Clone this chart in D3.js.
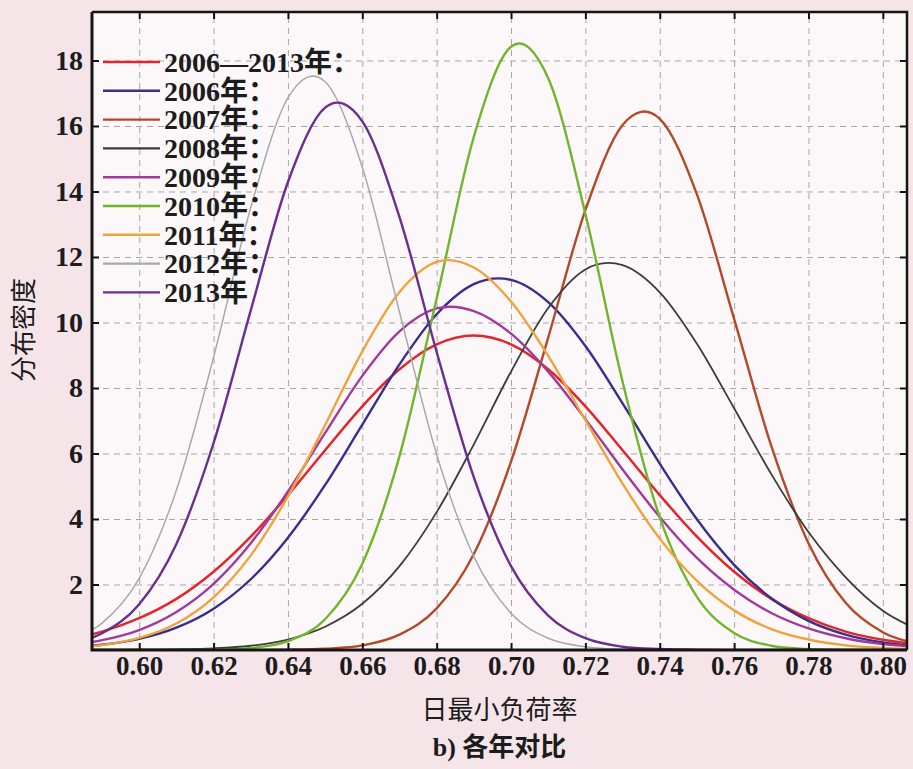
<!DOCTYPE html>
<html>
<head>
<meta charset="utf-8">
<script src="https://cdn.jsdelivr.net/npm/d3@7"></script>
<style>
  html, body { margin: 0; padding: 0; background: #f5e5e9; }
  svg { display: block; }
  .tick text { font-family: 'Liberation Serif', 'Times New Roman', serif; font-weight: bold; fill: #1c1c1c; }
</style>
</head>
<body>
<svg id="chart" width="913" height="769"></svg>
<script>
const xValues = [0.58, 0.59, 0.60, 0.61, 0.62, 0.63, 0.64, 0.65, 0.66, 0.67, 0.68, 0.69,
  0.70, 0.71, 0.72, 0.73, 0.74, 0.75, 0.76, 0.77, 0.78, 0.79, 0.80, 0.81];

const seriesNames = ['2006—2013年：', '2006年：', '2007年：', '2008年：', '2009年：',
  '2010年：', '2011年：', '2012年：', '2013年'];

const allYears = [0.31, 0.56, 0.97, 1.56, 2.39, 3.46, 4.73, 6.10, 7.44, 8.57, 9.33, 9.60,
  9.33, 8.57, 7.44, 6.10, 4.73, 3.46, 2.39, 1.56, 0.97, 0.56, 0.31, 0.16];
const y2006 = [0.07, 0.16, 0.34, 0.68, 1.26, 2.16, 3.43, 5.04, 6.88, 8.72, 10.25, 11.17,
  11.30, 10.62, 9.28, 7.53, 5.69, 3.99, 2.60, 1.58, 0.89, 0.47, 0.23, 0.10];
const y2007 = [0, 0, 0, 0, 0, 0, 0.01, 0.04, 0.14, 0.47, 1.27, 2.93,
  5.75, 9.54, 13.43, 16.03, 16.22, 13.91, 10.11, 6.23, 3.26, 1.44, 0.54, 0.17];
const y2008 = [0, 0, 0.01, 0.02, 0.05, 0.13, 0.32, 0.71, 1.41, 2.56, 4.21, 6.28,
  8.50, 10.44, 11.62, 11.75, 10.92, 9.35, 7.38, 5.37, 3.60, 2.22, 1.20, 0.60];
const y2009 = [0.13, 0.30, 0.61, 1.16, 2.02, 3.26, 4.84, 6.63, 8.37, 9.73, 10.43, 10.35,
  9.66, 8.50, 7.05, 5.51, 4.06, 2.81, 1.84, 1.13, 0.66, 0.36, 0.18, 0.09];
const y2010 = [0, 0, 0, 0, 0.01, 0.06, 0.27, 0.94, 2.63, 5.92, 10.73, 15.67,
  18.42, 17.46, 13.32, 8.19, 4.05, 1.62, 0.52, 0.13, 0.03, 0, 0, 0];
const y2011 = [0.06, 0.15, 0.37, 0.81, 1.61, 2.89, 4.69, 6.87, 9.12, 10.93, 11.85, 11.68,
  10.64, 8.98, 7.02, 5.08, 3.40, 2.11, 1.21, 0.64, 0.32, 0.14, 0.06, 0.02];
const y2012 = [0.25, 0.82, 2.19, 4.88, 8.94, 13.51, 16.86, 17.35, 14.74, 10.32, 5.97, 2.85,
  1.12, 0.36, 0.10, 0.02, 0, 0, 0, 0, 0, 0, 0, 0];
const y2013 = [0.15, 0.51, 1.40, 3.24, 6.32, 10.37, 14.29, 16.56, 16.14, 13.22, 9.10, 5.27,
  2.56, 1.05, 0.36, 0.10, 0.03, 0.01, 0, 0, 0, 0, 0, 0];

const xTicks = [0.60, 0.62, 0.64, 0.66, 0.68, 0.70, 0.72, 0.74, 0.76, 0.78, 0.80];
const yTicks = [2, 4, 6, 8, 10, 12, 14, 16, 18];

const seriesValues = [allYears, y2006, y2007, y2008, y2009, y2010, y2011, y2012, y2013];
const colors = ['#e3262c', '#3a2d8c', '#b24a2a', '#3c3c3c', '#a23a9c',
  '#72b52c', '#f0a23e', '#a9a9a9', '#6b2d8e'];
const widths = [2.5, 2.4, 2.4, 1.8, 2.4, 2.4, 2.4, 1.5, 2.4];

const margin = { top: 12, right: 6, bottom: 119, left: 92 };
const width = 913 - margin.left - margin.right;
const height = 769 - margin.top - margin.bottom;

const svg = d3.select('#chart');

const g = svg.append('g')
  .attr('transform', `translate(${margin.left},${margin.top})`);

const x = d3.scaleLinear().domain([0.5873, 0.8065]).range([0, width]);
const y = d3.scaleLinear().domain([0, 19.48]).range([height, 0]);

g.append('rect')
  .attr('width', width)
  .attr('height', height)
  .attr('fill', '#fcf8f9');

// dashed grid
g.append('g')
  .attr('transform', `translate(0,${height})`)
  .call(d3.axisBottom(x).tickValues(xTicks).tickSize(-height).tickFormat(''))
  .call((s) => s.select('.domain').remove())
  .selectAll('line')
  .attr('stroke', '#a6a6a6')
  .attr('stroke-dasharray', '6,5');

g.append('g')
  .call(d3.axisLeft(y).tickValues(yTicks).tickSize(-width).tickFormat(''))
  .call((s) => s.select('.domain').remove())
  .selectAll('line')
  .attr('stroke', '#a6a6a6')
  .attr('stroke-dasharray', '6,5');

g.append('clipPath')
  .attr('id', 'plot-clip')
  .append('rect')
  .attr('width', width)
  .attr('height', height);

const line = d3.line()
  .x((d, i) => x(xValues[i]))
  .y((d) => y(d))
  .curve(d3.curveCatmullRom.alpha(0));

g.append('g')
  .attr('clip-path', 'url(#plot-clip)')
  .selectAll('path')
  .data(seriesValues)
  .join('path')
  .attr('d', line)
  .attr('fill', 'none')
  .attr('stroke', (d, i) => colors[i])
  .attr('stroke-width', (d, i) => widths[i]);

// axes with inward ticks
const tickLen = 7;

g.append('g')
  .attr('transform', `translate(0,${height})`)
  .call(d3.axisBottom(x).tickValues(xTicks).tickSizeInner(-tickLen).tickSizeOuter(0)
    .tickPadding(6).tickFormat(d3.format('.2f')))
  .call((s) => s.select('.domain').remove())
  .call((s) => s.selectAll('text').attr('font-size', 27))
  .call((s) => s.selectAll('line').attr('stroke', '#111').attr('stroke-width', 2));

g.append('g')
  .call(d3.axisLeft(y).tickValues(yTicks).tickSizeInner(-tickLen).tickSizeOuter(0)
    .tickPadding(9))
  .call((s) => s.select('.domain').remove())
  .call((s) => s.selectAll('text').attr('font-size', 28))
  .call((s) => s.selectAll('line').attr('stroke', '#111').attr('stroke-width', 2));

g.append('g')
  .call(d3.axisTop(x).tickValues(xTicks).tickSizeInner(-tickLen).tickSizeOuter(0).tickFormat(''))
  .call((s) => s.select('.domain').remove())
  .selectAll('line').attr('stroke', '#111').attr('stroke-width', 2);

g.append('g')
  .attr('transform', `translate(${width},0)`)
  .call(d3.axisRight(y).tickValues(yTicks).tickSizeInner(-tickLen).tickSizeOuter(0).tickFormat(''))
  .call((s) => s.select('.domain').remove())
  .selectAll('line').attr('stroke', '#111').attr('stroke-width', 2);

// frame
g.append('path')
  .attr('d', `M0,0V${height}H${width}`)
  .attr('fill', 'none')
  .attr('stroke', '#151515')
  .attr('stroke-width', 3);
g.append('path')
  .attr('d', `M0,0H${width}V${height}`)
  .attr('fill', 'none')
  .attr('stroke', '#151515')
  .attr('stroke-width', 2.5);

// legend, no box
const legend = g.append('g')
  .attr('transform', 'translate(11,50)');

const rows = legend.selectAll('g')
  .data(seriesNames)
  .join('g')
  .attr('transform', (d, i) => `translate(0,${i * 28.8})`);

rows.append('line')
  .attr('x1', 0)
  .attr('x2', 57)
  .attr('stroke', (d, i) => colors[i])
  .attr('stroke-width', (d, i) => Math.max(widths[i], 2.2));

rows.append('text')
  .attr('x', 61)
  .attr('dy', '0.35em')
  .attr('font-family', "'Liberation Serif', 'Noto Sans CJK SC', serif")
  .attr('font-weight', 'bold')
  .attr('font-size', 28)
  .attr('fill', '#1c1c1c')
  .text((d) => d);

// titles
svg.append('text')
  .attr('x', margin.left + width / 2)
  .attr('y', 712)
  .attr('text-anchor', 'middle')
  .attr('dominant-baseline', 'middle')
  .attr('font-family', "'Noto Sans CJK SC', sans-serif")
  .attr('font-size', 26)
  .attr('fill', '#1c1c1c')
  .text('日最小负荷率');

svg.append('text')
  .attr('x', margin.left + width / 2)
  .attr('y', 750)
  .attr('text-anchor', 'middle')
  .attr('dominant-baseline', 'middle')
  .attr('font-family', "'Liberation Serif', 'Noto Sans CJK SC', serif")
  .attr('font-weight', 'bold')
  .attr('font-size', 26)
  .attr('fill', '#1c1c1c')
  .text('b) 各年对比');

svg.append('text')
  .attr('transform', 'translate(26,330) rotate(-90)')
  .attr('text-anchor', 'middle')
  .attr('dominant-baseline', 'middle')
  .attr('font-family', "'Noto Sans CJK SC', sans-serif")
  .attr('font-size', 26)
  .attr('fill', '#1c1c1c')
  .text('分布密度');
</script>
</body>
</html>
